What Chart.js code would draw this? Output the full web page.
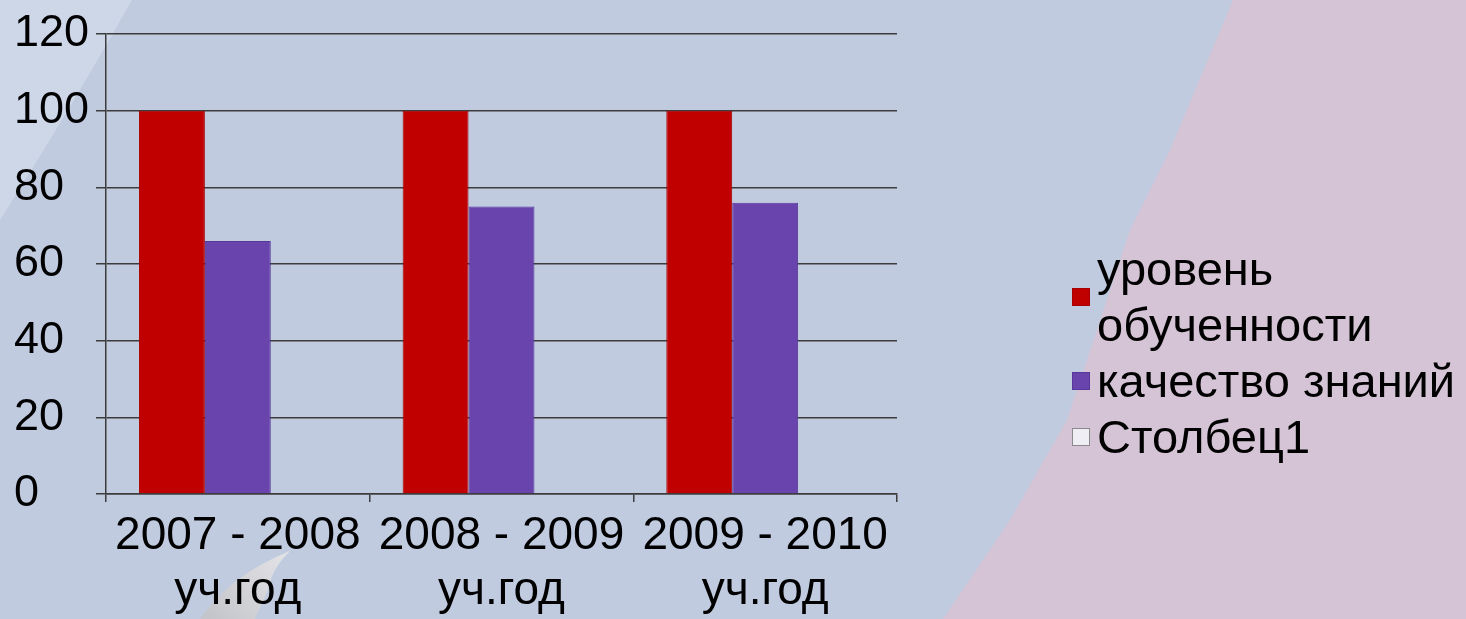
<!DOCTYPE html>
<html>
<head>
<meta charset="utf-8">
<script src="https://cdn.jsdelivr.net/npm/chart.js@4.4.1/dist/chart.umd.min.js"></script>
<style>
  html, body { margin: 0; padding: 0; overflow: hidden; }
  #wrap { width: 1466px; height: 619px; position: relative; }
</style>
</head>
<body>
<div id="wrap"><canvas id="barChart"></canvas></div>
<script>
const categories = [
  ["2007 - 2008", "уч.год"],
  ["2008 - 2009", "уч.год"],
  ["2009 - 2010", "уч.год"],
];
const seriesNames = ["уровень обученности", "качество знаний", "Столбец1"];
const levelValues = [100, 100, 100];
const qualityValues = [66, 75, 76];
const column1Values = [null, null, null];
const yTicks = [0, 20, 40, 60, 80, 100, 120];

const FONT = "'Liberation Sans', Arial, sans-serif";

// slide background: steel blue, light wedge top-left, pink band on the right, grey quill at the bottom
const background = {
  id: "background",
  beforeDraw(chart) {
    const { ctx, width, height } = chart;
    ctx.save();
    ctx.fillStyle = "#c0cbe0";
    ctx.fillRect(0, 0, width, height);

    ctx.fillStyle = "#ced7e8";
    ctx.beginPath();
    ctx.moveTo(0, 0);
    ctx.lineTo(132, 0);
    ctx.quadraticCurveTo(70, 110, 0, 220);
    ctx.closePath();
    ctx.fill();

    ctx.fillStyle = "#d5c4d6";
    ctx.beginPath();
    ctx.moveTo(1233, 0);
    ctx.lineTo(width, 0);
    ctx.lineTo(width, height);
    ctx.lineTo(943, height);
    ctx.lineTo(1010, 520);
    ctx.lineTo(1067, 420);
    ctx.lineTo(1097, 330);
    ctx.lineTo(1130, 230);
    ctx.lineTo(1170, 150);
    ctx.closePath();
    ctx.fill();

    const g = ctx.createLinearGradient(210, 619, 290, 552);
    g.addColorStop(0, "#c4c5ca");
    g.addColorStop(1, "#e4e4e7");
    ctx.fillStyle = g;
    ctx.beginPath();
    ctx.moveTo(200, 619);
    ctx.quadraticCurveTo(230, 575, 290, 551);
    ctx.quadraticCurveTo(272, 568, 268, 590);
    ctx.lineTo(255, 619);
    ctx.closePath();
    ctx.fill();
    ctx.restore();
  },
};

function wrapText(ctx, text, maxWidth) {
  const words = text.split(" ");
  const lines = [];
  let line = "";
  words.forEach((w) => {
    const test = line ? line + " " + w : w;
    if (line && ctx.measureText(test).width > maxWidth) {
      lines.push(line);
      line = w;
    } else {
      line = test;
    }
  });
  lines.push(line);
  return lines;
}

// Excel-like legend on the right, long labels wrap onto two lines
const sideLegend = {
  id: "sideLegend",
  afterDraw(chart, args, opts) {
    const { ctx } = chart;
    ctx.save();
    ctx.font = `${opts.fontSize}px ${FONT}`;
    ctx.textAlign = "left";
    ctx.textBaseline = "alphabetic";
    let baseline = opts.top;
    chart.data.datasets.forEach((ds) => {
      const lines = wrapText(ctx, ds.label, opts.maxWidth);
      ctx.fillStyle = "#000";
      lines.forEach((l, i) => ctx.fillText(l, opts.textX, baseline + i * opts.lineHeight));
      const last = baseline + (lines.length - 1) * opts.lineHeight;
      const cy = (baseline + last) / 2 - 16;
      ctx.fillStyle = ds.backgroundColor;
      ctx.fillRect(opts.boxX, cy - opts.box / 2, opts.box, opts.box);
      ctx.strokeStyle = ds.legendBorder;
      ctx.lineWidth = 1;
      ctx.strokeRect(opts.boxX + 0.5, cy - opts.box / 2 + 0.5, opts.box - 1, opts.box - 1);
      baseline = last + opts.lineHeight;
    });
    ctx.restore();
  },
};

new Chart(document.getElementById("barChart").getContext("2d"), {
  type: "bar",
  plugins: [background, sideLegend],
  data: {
    labels: categories,
    datasets: [
      {
        label: seriesNames[0],
        data: levelValues,
        backgroundColor: "#c00000",
        borderColor: "#a80000",
        legendBorder: "#a80000",
        borderWidth: 1,
      },
      {
        label: seriesNames[1],
        data: qualityValues,
        backgroundColor: "#6944ad",
        borderColor: "#57389a",
        legendBorder: "#57389a",
        borderWidth: 1,
      },
      {
        label: seriesNames[2],
        data: column1Values,
        backgroundColor: "#eeeef4",
        borderColor: "#9a9a9a",
        legendBorder: "#8a8a8a",
        borderWidth: 1,
      },
    ],
  },
  options: {
    animation: false,
    responsive: true,
    maintainAspectRatio: false,
    layout: { padding: { top: 34, left: 14, right: 569, bottom: 0 } },
    datasets: {
      bar: { categoryPercentage: 0.75, barPercentage: 1 },
    },
    plugins: {
      legend: { display: false },
      tooltip: { enabled: false },
      sideLegend: {
        fontSize: 47,
        lineHeight: 56,
        top: 285,
        textX: 1097,
        boxX: 1072,
        box: 18,
        maxWidth: 369,
      },
    },
    scales: {
      x: {
        afterFit(scale) { scale.height = 125; },
        border: { color: "#3c3c3c", width: 1.5 },
        grid: { drawOnChartArea: false, drawTicks: true, tickLength: 8, color: "#3c3c3c", lineWidth: 1.5 },
        ticks: {
          color: "#000",
          padding: 7,
          maxRotation: 0,
          autoSkip: false,
          font: { family: FONT, size: 46, lineHeight: 1.2 },
        },
      },
      y: {
        min: 0,
        max: 120,
        afterFit(scale) { scale.width = 92; },
        afterBuildTicks(scale) { scale.ticks = yTicks.map((v) => ({ value: v })); },
        border: { color: "#3c3c3c", width: 1.5 },
        grid: { color: "#3c3c3c", lineWidth: 1.5, tickLength: 10 },
        ticks: {
          color: "#000",
          crossAlign: "far",
          font: { family: FONT, size: 45 },
        },
      },
    },
  },
});
</script>
</body>
</html>
